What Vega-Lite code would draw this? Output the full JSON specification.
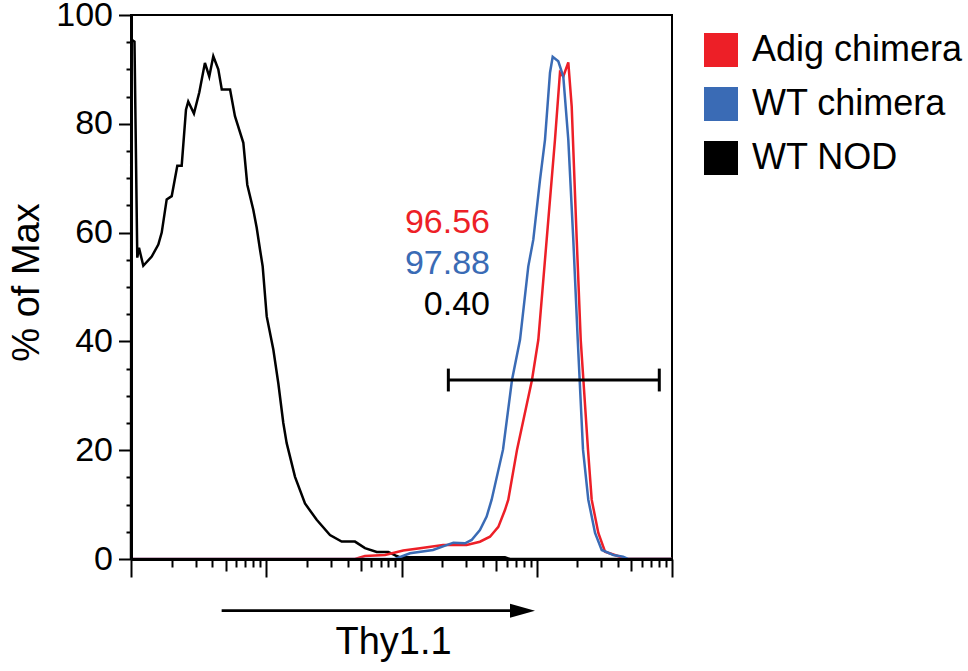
{
  "$schema": "https://vega.github.io/schema/vega-lite/v6.json",
  "width": 541,
  "height": 544,
  "autosize": {"type": "none"},
  "padding": {"left": 131, "top": 15, "right": 296, "bottom": 112},
  "background": "white",
  "config": {
    "font": "Liberation Sans",
    "view": {"stroke": "black", "strokeWidth": 2},
    "axis": {"grid": false, "tickColor": "black", "domainColor": "black", "labelColor": "black", "titleColor": "black", "labelFont": "Liberation Sans", "titleFont": "Liberation Sans", "titleFontWeight": "normal"}
  },
  "datasets": {
    "curves": [
      {"s": "WT NOD", "x": 1, "y": 0},
      {"s": "WT NOD", "x": 1.005, "y": 95.5},
      {"s": "WT NOD", "x": 1.061, "y": 95.1},
      {"s": "WT NOD", "x": 1.113, "y": 55.4},
      {"s": "WT NOD", "x": 1.146, "y": 57.2},
      {"s": "WT NOD", "x": 1.233, "y": 53.9},
      {"s": "WT NOD", "x": 1.423, "y": 55.6},
      {"s": "WT NOD", "x": 1.592, "y": 57.8},
      {"s": "WT NOD", "x": 1.687, "y": 60.0},
      {"s": "WT NOD", "x": 1.836, "y": 66.1},
      {"s": "WT NOD", "x": 2.0, "y": 66.7},
      {"s": "WT NOD", "x": 2.2, "y": 72.3},
      {"s": "WT NOD", "x": 2.37, "y": 72.3},
      {"s": "WT NOD", "x": 2.55, "y": 82.6},
      {"s": "WT NOD", "x": 2.65, "y": 84.1},
      {"s": "WT NOD", "x": 2.92, "y": 81.9},
      {"s": "WT NOD", "x": 3.2, "y": 85.8},
      {"s": "WT NOD", "x": 3.52, "y": 91.2},
      {"s": "WT NOD", "x": 3.79, "y": 88.7},
      {"s": "WT NOD", "x": 4.06, "y": 92.4},
      {"s": "WT NOD", "x": 4.42, "y": 90.0},
      {"s": "WT NOD", "x": 4.69, "y": 86.3},
      {"s": "WT NOD", "x": 5.4, "y": 86.3},
      {"s": "WT NOD", "x": 5.87, "y": 81.4},
      {"s": "WT NOD", "x": 6.77, "y": 76.5},
      {"s": "WT NOD", "x": 7.24, "y": 68.8},
      {"s": "WT NOD", "x": 8.02, "y": 64.2},
      {"s": "WT NOD", "x": 8.5, "y": 60.9},
      {"s": "WT NOD", "x": 8.99, "y": 56.9},
      {"s": "WT NOD", "x": 9.41, "y": 53.8},
      {"s": "WT NOD", "x": 10.08, "y": 44.6},
      {"s": "WT NOD", "x": 11.28, "y": 38.5},
      {"s": "WT NOD", "x": 12.28, "y": 32.3},
      {"s": "WT NOD", "x": 13.37, "y": 25.0},
      {"s": "WT NOD", "x": 14.16, "y": 21.3},
      {"s": "WT NOD", "x": 16.32, "y": 15.1},
      {"s": "WT NOD", "x": 19.34, "y": 10.2},
      {"s": "WT NOD", "x": 23.6, "y": 7.2},
      {"s": "WT NOD", "x": 29.6, "y": 4.4},
      {"s": "WT NOD", "x": 36.1, "y": 3.2},
      {"s": "WT NOD", "x": 45.3, "y": 3.2},
      {"s": "WT NOD", "x": 53.7, "y": 2.0},
      {"s": "WT NOD", "x": 65.6, "y": 1.3},
      {"s": "WT NOD", "x": 79.9, "y": 1.3},
      {"s": "WT NOD", "x": 92.2, "y": 0.55},
      {"s": "WT NOD", "x": 97.5, "y": 0.3},
      {"s": "WT NOD", "x": 582, "y": 0.3},
      {"s": "WT NOD", "x": 634, "y": 0},
      {"s": "WT NOD", "x": 10000, "y": 0},
      {"s": "Adig chimera", "x": 1, "y": 0},
      {"s": "Adig chimera", "x": 45.3, "y": 0},
      {"s": "Adig chimera", "x": 53.7, "y": 0.55},
      {"s": "Adig chimera", "x": 75.5, "y": 0.74},
      {"s": "Adig chimera", "x": 103, "y": 1.56},
      {"s": "Adig chimera", "x": 137, "y": 1.97},
      {"s": "Adig chimera", "x": 203, "y": 2.58},
      {"s": "Adig chimera", "x": 303, "y": 2.58},
      {"s": "Adig chimera", "x": 380, "y": 3.18},
      {"s": "Adig chimera", "x": 451, "y": 4.1},
      {"s": "Adig chimera", "x": 520, "y": 5.9},
      {"s": "Adig chimera", "x": 582, "y": 9.0},
      {"s": "Adig chimera", "x": 616, "y": 10.9},
      {"s": "Adig chimera", "x": 715, "y": 20.1},
      {"s": "Adig chimera", "x": 922, "y": 32.9},
      {"s": "Adig chimera", "x": 1027, "y": 40.3},
      {"s": "Adig chimera", "x": 1184, "y": 58.7},
      {"s": "Adig chimera", "x": 1364, "y": 77.1},
      {"s": "Adig chimera", "x": 1485, "y": 89.4},
      {"s": "Adig chimera", "x": 1571, "y": 88.7},
      {"s": "Adig chimera", "x": 1711, "y": 91.3},
      {"s": "Adig chimera", "x": 1813, "y": 83.2},
      {"s": "Adig chimera", "x": 1975, "y": 58.7},
      {"s": "Adig chimera", "x": 2114, "y": 40.3},
      {"s": "Adig chimera", "x": 2393, "y": 20.1},
      {"s": "Adig chimera", "x": 2548, "y": 10.9},
      {"s": "Adig chimera", "x": 2853, "y": 4.8},
      {"s": "Adig chimera", "x": 3199, "y": 1.34},
      {"s": "Adig chimera", "x": 4128, "y": 0.42},
      {"s": "Adig chimera", "x": 4495, "y": 0},
      {"s": "Adig chimera", "x": 10000, "y": 0},
      {"s": "WT chimera", "x": 1, "y": 0},
      {"s": "WT chimera", "x": 89.5, "y": 0},
      {"s": "WT chimera", "x": 115.6, "y": 1.05},
      {"s": "WT chimera", "x": 171, "y": 1.66},
      {"s": "WT chimera", "x": 242, "y": 3.0},
      {"s": "WT chimera", "x": 295, "y": 2.89},
      {"s": "WT chimera", "x": 330, "y": 3.5},
      {"s": "WT chimera", "x": 380, "y": 5.34},
      {"s": "WT chimera", "x": 426, "y": 7.8},
      {"s": "WT chimera", "x": 464, "y": 10.9},
      {"s": "WT chimera", "x": 563, "y": 20.1},
      {"s": "WT chimera", "x": 656, "y": 32.9},
      {"s": "WT chimera", "x": 752, "y": 40.3},
      {"s": "WT chimera", "x": 866, "y": 53.8},
      {"s": "WT chimera", "x": 943, "y": 58.7},
      {"s": "WT chimera", "x": 1057, "y": 69.7},
      {"s": "WT chimera", "x": 1151, "y": 77.1},
      {"s": "WT chimera", "x": 1253, "y": 89.4},
      {"s": "WT chimera", "x": 1312, "y": 92.3},
      {"s": "WT chimera", "x": 1443, "y": 91.5},
      {"s": "WT chimera", "x": 1571, "y": 88.7},
      {"s": "WT chimera", "x": 1711, "y": 77.1},
      {"s": "WT chimera", "x": 1863, "y": 58.7},
      {"s": "WT chimera", "x": 2009, "y": 40.3},
      {"s": "WT chimera", "x": 2198, "y": 20.1},
      {"s": "WT chimera", "x": 2405, "y": 10.9},
      {"s": "WT chimera", "x": 2698, "y": 4.8},
      {"s": "WT chimera", "x": 3022, "y": 1.66},
      {"s": "WT chimera", "x": 3682, "y": 0.74},
      {"s": "WT chimera", "x": 4345, "y": 0.42},
      {"s": "WT chimera", "x": 4731, "y": 0},
      {"s": "WT chimera", "x": 10000, "y": 0}
    ],
    "labels": [
      {"s": "Adig chimera", "x": 451, "y": 60.0, "t": "96.56"},
      {"s": "WT chimera", "x": 451, "y": 52.3, "t": "97.88"},
      {"s": "WT NOD", "x": 451, "y": 44.9, "t": "0.40"}
    ],
    "gate": [
      {"x": 222, "x2": 8054, "y": 32.9}
    ],
    "gateEnds": [
      {"x": 222, "ylo": 30.8, "yhi": 35.0},
      {"x": 8054, "ylo": 30.8, "yhi": 35.0}
    ],
    "arrow": [
      {"x": 4.68, "x2": 700, "y": -9.5, "head": 785}
    ]
  },
  "resolve": {"axis": {"x": "independent", "y": "independent"}},
  "layer": [
    {
      "data": {"name": "curves"},
      "mark": {"type": "line", "strokeWidth": 2.5, "interpolate": "linear"},
      "encoding": {
        "x": {"field": "x", "type": "quantitative",
          "scale": {"type": "log", "domain": [1, 10000], "nice": false},
          "axis": {"orient": "bottom", "zindex": 1, "values": [1, 10, 100, 1000, 10000], "labels": false, "tickSize": 18, "tickWidth": 2, "domainWidth": 3,
            "title": "Thy1.1", "titleFontSize": 38, "titleX": 262, "titleY": 94, "titleBaseline": "alphabetic", "titleAlign": "center", "titleAnchor": null}},
        "y": {"field": "y", "type": "quantitative",
          "scale": {"domain": [0, 100], "nice": false, "zero": false},
          "axis": {"orient": "left", "zindex": 1, "values": [0, 20, 40, 60, 80, 100], "tickSize": 12.5, "tickWidth": 2, "domainWidth": 3,
            "labelFontSize": 34, "labelPadding": 6,
            "title": "% of Max", "titleFontSize": 38, "titleAngle": -90, "titleX": -93, "titleY": 267, "titleBaseline": "alphabetic", "titleAlign": "center", "titleAnchor": null}},
        "color": {"field": "s", "type": "nominal",
          "scale": {"domain": ["Adig chimera", "WT chimera", "WT NOD"], "range": ["#ED1F27", "#3A6BB5", "#000000"]},
          "legend": {"orient": "none", "legendX": 572, "legendY": 17, "title": null, "padding": 0,
            "symbolType": "square", "symbolSize": 1024, "labelFontSize": 36, "labelFont": "Liberation Sans", "labelColor": "black",
            "labelOffset": 13, "rowPadding": 14, "labelLimit": 0,
            "encode": {"symbols": {"update": {"fill": {"scale": "color", "field": "value"}, "fillOpacity": {"value": 1}, "stroke": {"value": "#231f20"}, "strokeWidth": {"value": 2}}}}}}
      }
    },
    {
      "data": {"name": "labels"},
      "mark": {"type": "text", "fontSize": 34, "align": "right", "baseline": "alphabetic", "font": "Liberation Sans"},
      "encoding": {
        "x": {"field": "x", "type": "quantitative", "scale": {"type": "log", "domain": [1, 10000], "nice": false},
          "axis": {"orient": "bottom", "values": [5, 50, 500, 5000], "labels": false, "tickSize": 12, "tickWidth": 2, "domain": false, "title": null}},
        "y": {"field": "y", "type": "quantitative", "scale": {"domain": [0, 100], "nice": false, "zero": false},
          "axis": {"orient": "left", "values": [5, 10, 15, 25, 30, 35, 45, 50, 55, 65, 70, 75, 85, 90, 95], "labels": false, "tickSize": 5, "tickWidth": 2, "domain": false, "title": null}},
        "text": {"field": "t", "type": "nominal"},
        "color": {"field": "s", "type": "nominal", "scale": {"domain": ["Adig chimera", "WT chimera", "WT NOD"], "range": ["#ED1F27", "#3A6BB5", "#000000"]}}
      }
    },
    {
      "data": {"name": "gate"},
      "mark": {"type": "rule", "strokeWidth": 3, "color": "black"},
      "encoding": {
        "x": {"field": "x", "type": "quantitative", "scale": {"type": "log", "domain": [1, 10000], "nice": false},
          "axis": {"orient": "bottom", "values": [2, 3, 4, 6, 7, 8, 9, 20, 30, 40, 60, 70, 80, 90, 200, 300, 400, 600, 700, 800, 900, 2000, 3000, 4000, 6000, 7000, 8000, 9000], "labels": false, "tickSize": 8, "tickWidth": 2, "domain": false, "title": null}},
        "x2": {"field": "x2"},
        "y": {"field": "y", "type": "quantitative", "scale": {"domain": [0, 100], "nice": false, "zero": false}, "axis": null}
      }
    },
    {
      "data": {"name": "gateEnds"},
      "mark": {"type": "rule", "strokeWidth": 3, "color": "black"},
      "encoding": {
        "x": {"field": "x", "type": "quantitative", "scale": {"type": "log", "domain": [1, 10000], "nice": false}, "axis": null},
        "y": {"field": "ylo", "type": "quantitative", "scale": {"domain": [0, 100], "nice": false, "zero": false}, "axis": null},
        "y2": {"field": "yhi"}
      }
    },
    {
      "data": {"name": "arrow"},
      "mark": {"type": "rule", "strokeWidth": 2.7, "color": "black", "clip": false},
      "encoding": {
        "x": {"field": "x", "type": "quantitative", "scale": {"type": "log", "domain": [1, 10000], "nice": false}, "axis": null},
        "x2": {"field": "x2"},
        "y": {"field": "y", "type": "quantitative", "scale": {"domain": [0, 100], "nice": false, "zero": false}, "axis": null}
      }
    },
    {
      "data": {"name": "arrow"},
      "mark": {"type": "point", "shape": "M-1,-0.56L1,0L-1,0.56Z", "size": 625, "filled": true, "opacity": 1, "color": "black", "clip": false},
      "encoding": {
        "x": {"field": "head", "type": "quantitative", "scale": {"type": "log", "domain": [1, 10000], "nice": false}, "axis": null},
        "y": {"field": "y", "type": "quantitative", "scale": {"domain": [0, 100], "nice": false, "zero": false}, "axis": null}
      }
    }
  ]
}
